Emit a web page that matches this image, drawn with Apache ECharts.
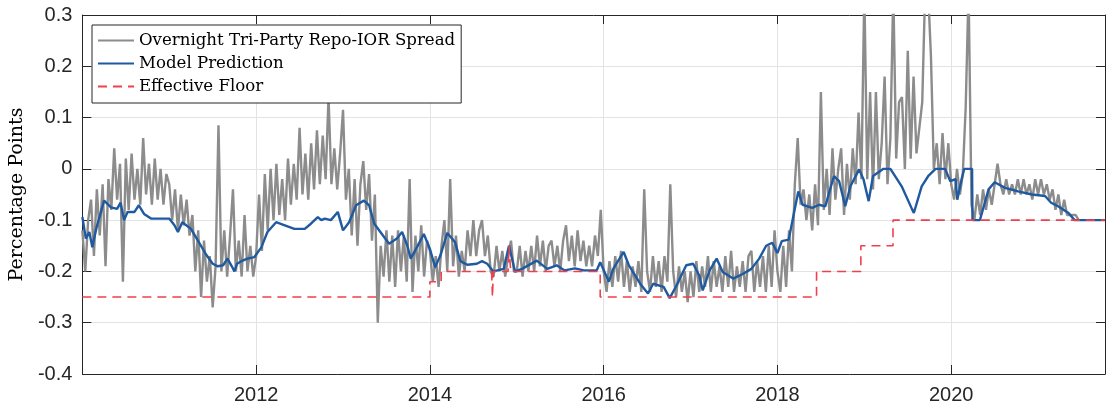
<!DOCTYPE html>
<html>
<head>
<meta charset="utf-8">
<script src="https://cdn.jsdelivr.net/npm/echarts@6/dist/echarts.min.js"></script>
<style>
  html, body { margin: 0; padding: 0; background: #fff; }
  #chart { width: 1108px; height: 410px; }
</style>
</head>
<body>
<div id="chart"></div>
<script>
// overnight tri-party repo minus IOR, sampled every 1/30 year from 2010.0
var repoStart = 2010
var repoStep = 1 / 30
var repoSpread = [
  // 2010
  -0.12, -0.2, -0.1, -0.06, -0.17, -0.04, -0.13, -0.03, -0.19, -0.02, -0.08, 0.04, -0.06, 0.01, -0.22,
  0.02, -0.08, 0.03, -0.06, 0.0, -0.07, 0.06, -0.05, 0.01, -0.07, 0.02, -0.06, 0.0, -0.07, -0.01,
  // 2011
  -0.03, -0.1, -0.04, -0.12, -0.05, -0.11, -0.06, -0.13, -0.09, -0.2, -0.12, -0.25, -0.14, -0.22, -0.17,
  -0.27, -0.19, 0.085, -0.2, -0.12, -0.21, -0.13, -0.04, -0.2, -0.14, -0.21, -0.09, -0.2, -0.15, -0.21,
  // 2012
  -0.17, -0.05, -0.16, -0.01, -0.12, 0.0, -0.1, 0.01, -0.09, -0.02, -0.1, 0.02, -0.07, 0.01, -0.06,
  0.08, -0.05, 0.03, -0.06, 0.05, -0.04, 0.075, -0.03, 0.065, -0.02, 0.14, -0.03, 0.04, -0.04, 0.03,
  // 2013
  0.115, -0.06, 0.0, -0.13, -0.02, -0.15, -0.03, 0.015, -0.08, -0.01, -0.14, -0.05, -0.3, -0.15, -0.21,
  -0.12, -0.22, -0.13, -0.23, -0.12, -0.2, -0.13, -0.22, -0.02, -0.24, -0.13, -0.2, -0.11, -0.21, -0.14,
  // 2014
  -0.16, -0.22, -0.17, -0.23, -0.15, -0.1, -0.2, -0.02, -0.19, -0.13, -0.21, -0.16, -0.2, -0.12, -0.17,
  -0.1, -0.17, -0.12, -0.1, -0.17, -0.13, -0.2, -0.21, -0.15, -0.2, -0.16, -0.21, -0.17, -0.14, -0.2,
  // 2015
  -0.2, -0.15, -0.21, -0.16, -0.2, -0.15, -0.2, -0.13, -0.19, -0.14, -0.2, -0.15, -0.14, -0.19, -0.15,
  -0.2, -0.14, -0.11, -0.18, -0.13, -0.19, -0.12, -0.18, -0.14, -0.19, -0.15, -0.19, -0.13, -0.17, -0.08,
  // 2016
  -0.2, -0.24, -0.18, -0.23, -0.17, -0.22, -0.16, -0.23, -0.18, -0.24, -0.19, -0.23, -0.18, -0.24, -0.04,
  -0.2, -0.24, -0.17, -0.23, -0.18, -0.24, -0.17, -0.22, -0.03, -0.2, -0.25, -0.19, -0.24, -0.2, -0.26,
  // 2017
  -0.2, -0.25, -0.18, -0.24, -0.19, -0.23, -0.17, -0.24, -0.18, -0.23, -0.19, -0.24, -0.17, -0.23, -0.16,
  -0.24, -0.19, -0.23, -0.18, -0.24, -0.17, -0.16, -0.24, -0.18, -0.23, -0.17, -0.24, -0.15, -0.23, -0.12,
  // 2018
  -0.2, -0.24, -0.15, -0.23, -0.12, -0.2, -0.03, 0.06, -0.07, -0.04, -0.1, -0.05, -0.12, -0.03, -0.11,
  0.15, -0.08, 0.0, -0.09, 0.04, -0.06, 0.0, 0.04, -0.09, 0.01, -0.06, 0.04, -0.03, 0.11, -0.02,
  // 2019
  0.35, -0.02, 0.15, -0.04, 0.15, -0.02, 0.05, 0.18, -0.03, 0.06, 0.35, 0.02, 0.13, 0.14, 0.0,
  0.23, 0.02, 0.18, 0.03, 0.08, 0.13, 0.35, 0.35, 0.22, 0.0, 0.05, -0.03, 0.07, -0.02, 0.05,
  // 2020
  -0.03, -0.06, 0.0, -0.05, -0.01, 0.12, 0.35, -0.07, -0.1, -0.05, -0.09, -0.04, -0.08, -0.04, -0.07,
  -0.03, 0.01, -0.03, -0.05, -0.02, -0.05, -0.03, -0.05, -0.02, -0.05, -0.02, -0.05, -0.03, -0.06, -0.02,
  // 2021
  -0.05, -0.02, -0.05, -0.03, -0.06, -0.04, -0.08, -0.05, -0.09, -0.06, -0.09, -0.09, -0.09, -0.09, -0.1
]

// model prediction
var modelYears = [
  2010.0, 2010.04, 2010.08, 2010.115, 2010.135, 2010.17, 2010.25, 2010.33, 2010.40, 2010.44, 2010.48,
  2010.52, 2010.6, 2010.65, 2010.71, 2010.79, 2010.9, 2011.0, 2011.06, 2011.1, 2011.15, 2011.25,
  2011.33, 2011.42, 2011.5, 2011.56, 2011.62, 2011.67, 2011.72, 2011.75, 2011.78, 2011.83, 2011.9,
  2011.98, 2012.06, 2012.13, 2012.23, 2012.33, 2012.44, 2012.56, 2012.63, 2012.71, 2012.75, 2012.79,
  2012.86, 2012.94, 2013.0, 2013.07, 2013.15, 2013.24, 2013.3, 2013.36, 2013.43, 2013.53, 2013.62,
  2013.68, 2013.74, 2013.78, 2013.85, 2013.93, 2014.0, 2014.06, 2014.12, 2014.2, 2014.29, 2014.35,
  2014.43, 2014.54, 2014.6, 2014.66, 2014.73, 2014.85, 2014.91, 2014.98, 2015.06, 2015.23, 2015.35,
  2015.46, 2015.55, 2015.67, 2015.77, 2015.92, 2015.96, 2016.06, 2016.11, 2016.23, 2016.29, 2016.42,
  2016.51, 2016.57, 2016.69, 2016.76, 2016.84, 2016.95, 2017.03, 2017.1, 2017.14, 2017.22, 2017.3,
  2017.37, 2017.49, 2017.6, 2017.7, 2017.79, 2017.87, 2017.94, 2018.0, 2018.05, 2018.13, 2018.19,
  2018.24, 2018.29, 2018.4, 2018.48, 2018.55, 2018.65, 2018.71, 2018.78, 2018.84, 2018.94, 2018.99,
  2019.05, 2019.1, 2019.15, 2019.22, 2019.3, 2019.43, 2019.55, 2019.57, 2019.66, 2019.74, 2019.82,
  2019.93, 2019.99, 2020.05, 2020.07, 2020.12, 2020.15, 2020.24, 2020.245, 2020.33, 2020.43, 2020.5,
  2020.62, 2020.77, 2020.93, 2021.08, 2021.15, 2021.23, 2021.35, 2021.42, 2021.77
]
var modelValues = [
  -0.094, -0.136, -0.123, -0.153, -0.136, -0.11, -0.062, -0.075, -0.078, -0.066, -0.1,
  -0.084, -0.084, -0.071, -0.088, -0.097, -0.097, -0.097, -0.11, -0.123, -0.104, -0.117,
  -0.14, -0.166, -0.185, -0.19, -0.188, -0.175, -0.19, -0.2, -0.185, -0.18, -0.175,
  -0.172, -0.153, -0.123, -0.104, -0.11, -0.117, -0.117, -0.107, -0.094, -0.1, -0.097,
  -0.1, -0.084, -0.12, -0.104, -0.071, -0.062, -0.071, -0.107, -0.123, -0.146, -0.136,
  -0.123, -0.15, -0.175, -0.153, -0.127, -0.156, -0.192, -0.169, -0.125, -0.143, -0.18,
  -0.187, -0.185, -0.18, -0.185, -0.2, -0.195, -0.15, -0.2, -0.195, -0.179, -0.195,
  -0.188, -0.198, -0.194, -0.198, -0.198, -0.182, -0.22, -0.195, -0.162, -0.188, -0.224,
  -0.243, -0.224, -0.23, -0.252, -0.227, -0.188, -0.185, -0.208, -0.237, -0.198, -0.175,
  -0.201, -0.214, -0.205, -0.195, -0.175, -0.15, -0.144, -0.164, -0.141, -0.138, -0.086,
  -0.044, -0.07, -0.076, -0.07, -0.073, -0.014, -0.024, -0.073, -0.034, -0.001, -0.02,
  -0.063, -0.014, -0.008, 0, 0, -0.034, -0.079, -0.086, -0.034, -0.013, 0,
  0, -0.024, -0.02, -0.06, -0.02, 0, 0, -0.1, -0.1, -0.04, -0.026,
  -0.037, -0.044, -0.05, -0.053, -0.066, -0.073, -0.086, -0.1, -0.1
]

// effective floor (step changes)
var floorYears = [
  2010.0, 2014.0, 2014.0, 2014.13, 2014.13, 2014.71, 2014.72, 2014.73, 2014.9, 2014.91, 2014.93,
  2015.96, 2015.96, 2018.45, 2018.45, 2018.96, 2018.96, 2019.33, 2019.33, 2021.77
]
var floorValues = [
  -0.25, -0.25, -0.22, -0.22, -0.2, -0.2, -0.25, -0.2, -0.2, -0.15, -0.2,
  -0.2, -0.25, -0.25, -0.2, -0.2, -0.15, -0.15, -0.1, -0.1
]

var repoData = repoSpread.map(function (v, i) { return [repoStart + i * repoStep, v] })
var modelData = modelYears.map(function (x, i) { return [x, modelValues[i]] })
var floorData = floorYears.map(function (x, i) { return [x, floorValues[i]] })

var axisColor = '#262626'
var tickFont = 'Liberation Sans, Arial, sans-serif'
var serifFont = 'DejaVu Serif, serif'

var myChart = echarts.init(document.getElementById('chart'), null, { renderer: 'canvas' })
var option = {
  animation: false,
  backgroundColor: '#ffffff',
  grid: { left: 82, right: 1, top: 15, bottom: 36, containLabel: false },
  legend: {
    orient: 'vertical',
    left: 92,
    top: 25,
    padding: [7, 6, 8, 5],
    itemWidth: 36,
    itemHeight: 14,
    itemGap: 6,
    backgroundColor: '#ffffff',
    borderColor: '#262626',
    borderWidth: 1,
    borderRadius: 0,
    itemStyle: { opacity: 0 },
    textStyle: { fontFamily: serifFont, fontSize: 16.6, color: '#000' },
    data: ['Overnight Tri-Party Repo-IOR Spread', 'Model Prediction', 'Effective Floor']
  },
  xAxis: [{
    type: 'value',
    min: 2010,
    max: 2021.77,
    interval: 2,
    axisLine: { show: true, onZero: false, lineStyle: { color: axisColor, width: 1 } },
    axisTick: { show: true, inside: true, length: 9, lineStyle: { color: axisColor } },
    axisLabel: {
      color: axisColor,
      fontFamily: tickFont,
      fontSize: 20,
      margin: 11,
      formatter: function (v) {
        var r = Math.round(v)
        return (Math.abs(v - r) < 1e-6 && r % 2 === 0 && r > 2010) ? String(r) : ''
      }
    },
    splitLine: { show: true, lineStyle: { color: '#e3e3e3', width: 1 } }
  }, {
    type: 'value',
    position: 'top',
    min: 2010,
    max: 2021.77,
    interval: 2,
    axisLine: { show: true, onZero: false, lineStyle: { color: axisColor, width: 1 } },
    axisTick: { show: true, inside: true, length: 9, lineStyle: { color: axisColor } },
    axisLabel: { show: false },
    splitLine: { show: false }
  }],
  yAxis: [{
    type: 'value',
    min: -0.4,
    max: 0.3,
    interval: 0.1,
    name: 'Percentage Points',
    nameLocation: 'middle',
    nameGap: 54,
    nameTextStyle: { fontFamily: serifFont, fontSize: 19, color: '#000' },
    axisLine: { show: true, onZero: false, lineStyle: { color: axisColor, width: 1 } },
    axisTick: { show: true, inside: true, length: 9, lineStyle: { color: axisColor } },
    axisLabel: {
      color: axisColor,
      fontFamily: tickFont,
      fontSize: 20,
      margin: 10,
      formatter: function (v) {
        var r = Math.round(v * 10) / 10
        return r === 0 ? '0' : r.toFixed(1)
      }
    },
    splitLine: { show: true, lineStyle: { color: '#e3e3e3', width: 1 } }
  }, {
    type: 'value',
    position: 'right',
    min: -0.4,
    max: 0.3,
    interval: 0.1,
    axisLine: { show: true, onZero: false, lineStyle: { color: axisColor, width: 1 } },
    axisTick: { show: true, inside: true, length: 9, lineStyle: { color: axisColor } },
    axisLabel: { show: false },
    splitLine: { show: false }
  }],
  series: [{
    name: 'Overnight Tri-Party Repo-IOR Spread',
    type: 'line',
    data: repoData,
    showSymbol: false,
    symbol: 'none',
    clip: true,
    color: '#8c8c8c',
    lineStyle: { color: '#8c8c8c', width: 2.4 },
    z: 2
  }, {
    name: 'Model Prediction',
    type: 'line',
    data: modelData,
    showSymbol: false,
    symbol: 'none',
    clip: true,
    color: '#1f5aa0',
    lineStyle: { color: '#1f5aa0', width: 2.4 },
    z: 3
  }, {
    name: 'Effective Floor',
    type: 'line',
    data: floorData,
    showSymbol: false,
    symbol: 'none',
    clip: true,
    color: '#f0404c',
    lineStyle: { color: '#f0404c', width: 1.6, type: [9, 6] },
    z: 4
  }]
}
myChart.setOption(option)
window.onresize = myChart.resize
</script>
</body>
</html>
